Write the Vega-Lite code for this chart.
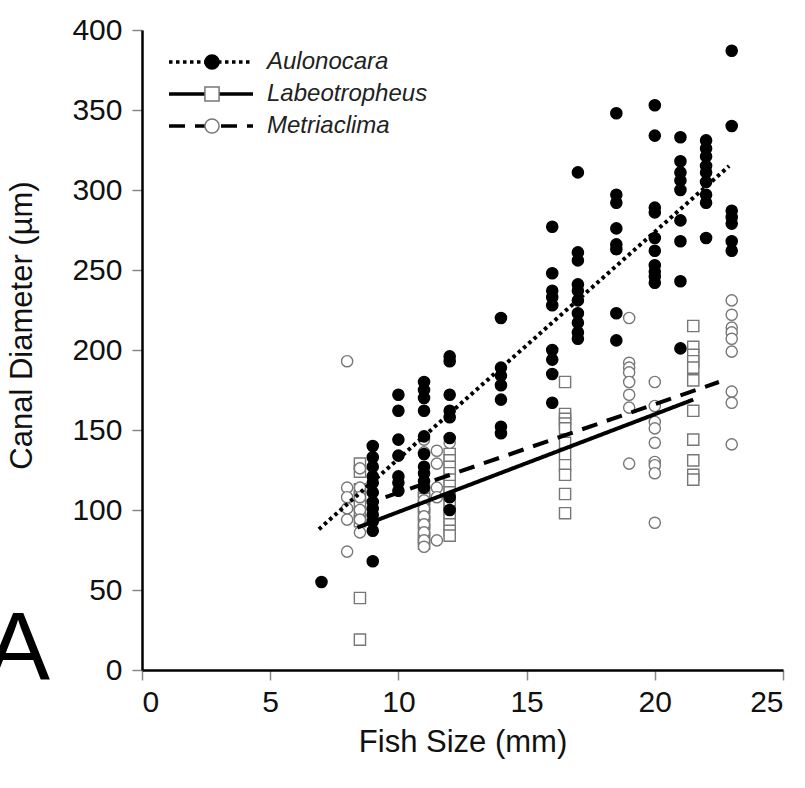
{
  "$schema": "https://vega.github.io/schema/vega-lite/v6.json",
  "width": 641,
  "height": 640,
  "autosize": {"type": "none"},
  "padding": {"left": 142, "top": 30, "right": 22, "bottom": 118},
  "background": "white",
  "config": {
    "view": {"stroke": null},
    "font": "Liberation Sans, Arial, sans-serif",
    "axis": {
      "grid": false,
      "domainColor": "black",
      "domainWidth": 2.5,
      "tickColor": "#888",
      "tickWidth": 1.5,
      "tickSize": 10,
      "labelFontSize": 30,
      "labelColor": "#111",
      "labelFont": "Liberation Sans, Arial, sans-serif",
      "titleFont": "Liberation Sans, Arial, sans-serif",
      "titleFontSize": 31,
      "titleFontWeight": "normal",
      "titleColor": "#111"
    }
  },
  "title": {
    "text": "A",
    "orient": "bottom",
    "anchor": "start",
    "frame": "group",
    "align": "center",
    "baseline": "alphabetic",
    "offset": -78,
    "dx": -124,
    "fontSize": 96,
    "fontWeight": "normal",
    "font": "Liberation Sans, Arial, sans-serif",
    "color": "black"
  },
  "datasets": {
    "points": [
      {"species": "Labeotropheus", "fish_size": 8.5, "canal_diameter": 129},
      {"species": "Labeotropheus", "fish_size": 8.5, "canal_diameter": 124},
      {"species": "Labeotropheus", "fish_size": 8.5, "canal_diameter": 113},
      {"species": "Labeotropheus", "fish_size": 8.5, "canal_diameter": 108},
      {"species": "Labeotropheus", "fish_size": 8.5, "canal_diameter": 103},
      {"species": "Labeotropheus", "fish_size": 8.5, "canal_diameter": 98},
      {"species": "Labeotropheus", "fish_size": 8.5, "canal_diameter": 93},
      {"species": "Labeotropheus", "fish_size": 8.5, "canal_diameter": 45},
      {"species": "Labeotropheus", "fish_size": 8.5, "canal_diameter": 19},
      {"species": "Labeotropheus", "fish_size": 11, "canal_diameter": 112},
      {"species": "Labeotropheus", "fish_size": 11, "canal_diameter": 107},
      {"species": "Labeotropheus", "fish_size": 11, "canal_diameter": 102},
      {"species": "Labeotropheus", "fish_size": 11, "canal_diameter": 97},
      {"species": "Labeotropheus", "fish_size": 11, "canal_diameter": 92},
      {"species": "Labeotropheus", "fish_size": 11, "canal_diameter": 87},
      {"species": "Labeotropheus", "fish_size": 11, "canal_diameter": 82},
      {"species": "Labeotropheus", "fish_size": 11, "canal_diameter": 79},
      {"species": "Labeotropheus", "fish_size": 12, "canal_diameter": 135},
      {"species": "Labeotropheus", "fish_size": 12, "canal_diameter": 131},
      {"species": "Labeotropheus", "fish_size": 12, "canal_diameter": 127},
      {"species": "Labeotropheus", "fish_size": 12, "canal_diameter": 123},
      {"species": "Labeotropheus", "fish_size": 12, "canal_diameter": 119},
      {"species": "Labeotropheus", "fish_size": 12, "canal_diameter": 115},
      {"species": "Labeotropheus", "fish_size": 12, "canal_diameter": 111},
      {"species": "Labeotropheus", "fish_size": 12, "canal_diameter": 107},
      {"species": "Labeotropheus", "fish_size": 12, "canal_diameter": 103},
      {"species": "Labeotropheus", "fish_size": 12, "canal_diameter": 99},
      {"species": "Labeotropheus", "fish_size": 12, "canal_diameter": 95},
      {"species": "Labeotropheus", "fish_size": 12, "canal_diameter": 91},
      {"species": "Labeotropheus", "fish_size": 12, "canal_diameter": 87},
      {"species": "Labeotropheus", "fish_size": 12, "canal_diameter": 84},
      {"species": "Labeotropheus", "fish_size": 16.5, "canal_diameter": 180},
      {"species": "Labeotropheus", "fish_size": 16.5, "canal_diameter": 160},
      {"species": "Labeotropheus", "fish_size": 16.5, "canal_diameter": 157},
      {"species": "Labeotropheus", "fish_size": 16.5, "canal_diameter": 154},
      {"species": "Labeotropheus", "fish_size": 16.5, "canal_diameter": 151},
      {"species": "Labeotropheus", "fish_size": 16.5, "canal_diameter": 142},
      {"species": "Labeotropheus", "fish_size": 16.5, "canal_diameter": 135},
      {"species": "Labeotropheus", "fish_size": 16.5, "canal_diameter": 128},
      {"species": "Labeotropheus", "fish_size": 16.5, "canal_diameter": 122},
      {"species": "Labeotropheus", "fish_size": 16.5, "canal_diameter": 110},
      {"species": "Labeotropheus", "fish_size": 16.5, "canal_diameter": 98},
      {"species": "Labeotropheus", "fish_size": 21.5, "canal_diameter": 215},
      {"species": "Labeotropheus", "fish_size": 21.5, "canal_diameter": 202},
      {"species": "Labeotropheus", "fish_size": 21.5, "canal_diameter": 197},
      {"species": "Labeotropheus", "fish_size": 21.5, "canal_diameter": 193},
      {"species": "Labeotropheus", "fish_size": 21.5, "canal_diameter": 189},
      {"species": "Labeotropheus", "fish_size": 21.5, "canal_diameter": 181},
      {"species": "Labeotropheus", "fish_size": 21.5, "canal_diameter": 162},
      {"species": "Labeotropheus", "fish_size": 21.5, "canal_diameter": 144},
      {"species": "Labeotropheus", "fish_size": 21.5, "canal_diameter": 131},
      {"species": "Labeotropheus", "fish_size": 21.5, "canal_diameter": 122},
      {"species": "Labeotropheus", "fish_size": 21.5, "canal_diameter": 119},
      {"species": "Metriaclima", "fish_size": 8, "canal_diameter": 193},
      {"species": "Metriaclima", "fish_size": 8, "canal_diameter": 114},
      {"species": "Metriaclima", "fish_size": 8, "canal_diameter": 108},
      {"species": "Metriaclima", "fish_size": 8, "canal_diameter": 101},
      {"species": "Metriaclima", "fish_size": 8, "canal_diameter": 94},
      {"species": "Metriaclima", "fish_size": 8, "canal_diameter": 74},
      {"species": "Metriaclima", "fish_size": 8.5, "canal_diameter": 126},
      {"species": "Metriaclima", "fish_size": 8.5, "canal_diameter": 114},
      {"species": "Metriaclima", "fish_size": 8.5, "canal_diameter": 108},
      {"species": "Metriaclima", "fish_size": 8.5, "canal_diameter": 100},
      {"species": "Metriaclima", "fish_size": 8.5, "canal_diameter": 94},
      {"species": "Metriaclima", "fish_size": 8.5, "canal_diameter": 86},
      {"species": "Metriaclima", "fish_size": 11, "canal_diameter": 144},
      {"species": "Metriaclima", "fish_size": 11, "canal_diameter": 136},
      {"species": "Metriaclima", "fish_size": 11, "canal_diameter": 114},
      {"species": "Metriaclima", "fish_size": 11, "canal_diameter": 106},
      {"species": "Metriaclima", "fish_size": 11, "canal_diameter": 101},
      {"species": "Metriaclima", "fish_size": 11, "canal_diameter": 96},
      {"species": "Metriaclima", "fish_size": 11, "canal_diameter": 91},
      {"species": "Metriaclima", "fish_size": 11, "canal_diameter": 86},
      {"species": "Metriaclima", "fish_size": 11, "canal_diameter": 81},
      {"species": "Metriaclima", "fish_size": 11, "canal_diameter": 77},
      {"species": "Metriaclima", "fish_size": 11.5, "canal_diameter": 137},
      {"species": "Metriaclima", "fish_size": 11.5, "canal_diameter": 129},
      {"species": "Metriaclima", "fish_size": 11.5, "canal_diameter": 114},
      {"species": "Metriaclima", "fish_size": 11.5, "canal_diameter": 108},
      {"species": "Metriaclima", "fish_size": 11.5, "canal_diameter": 81},
      {"species": "Metriaclima", "fish_size": 12, "canal_diameter": 142},
      {"species": "Metriaclima", "fish_size": 19, "canal_diameter": 220},
      {"species": "Metriaclima", "fish_size": 19, "canal_diameter": 192},
      {"species": "Metriaclima", "fish_size": 19, "canal_diameter": 189},
      {"species": "Metriaclima", "fish_size": 19, "canal_diameter": 186},
      {"species": "Metriaclima", "fish_size": 19, "canal_diameter": 180},
      {"species": "Metriaclima", "fish_size": 19, "canal_diameter": 172},
      {"species": "Metriaclima", "fish_size": 19, "canal_diameter": 164},
      {"species": "Metriaclima", "fish_size": 19, "canal_diameter": 129},
      {"species": "Metriaclima", "fish_size": 20, "canal_diameter": 180},
      {"species": "Metriaclima", "fish_size": 20, "canal_diameter": 165},
      {"species": "Metriaclima", "fish_size": 20, "canal_diameter": 155},
      {"species": "Metriaclima", "fish_size": 20, "canal_diameter": 151},
      {"species": "Metriaclima", "fish_size": 20, "canal_diameter": 142},
      {"species": "Metriaclima", "fish_size": 20, "canal_diameter": 130},
      {"species": "Metriaclima", "fish_size": 20, "canal_diameter": 128},
      {"species": "Metriaclima", "fish_size": 20, "canal_diameter": 123},
      {"species": "Metriaclima", "fish_size": 20, "canal_diameter": 92},
      {"species": "Metriaclima", "fish_size": 23, "canal_diameter": 231},
      {"species": "Metriaclima", "fish_size": 23, "canal_diameter": 222},
      {"species": "Metriaclima", "fish_size": 23, "canal_diameter": 214},
      {"species": "Metriaclima", "fish_size": 23, "canal_diameter": 211},
      {"species": "Metriaclima", "fish_size": 23, "canal_diameter": 207},
      {"species": "Metriaclima", "fish_size": 23, "canal_diameter": 199},
      {"species": "Metriaclima", "fish_size": 23, "canal_diameter": 174},
      {"species": "Metriaclima", "fish_size": 23, "canal_diameter": 167},
      {"species": "Metriaclima", "fish_size": 23, "canal_diameter": 141},
      {"species": "Aulonocara", "fish_size": 7, "canal_diameter": 55},
      {"species": "Aulonocara", "fish_size": 9, "canal_diameter": 140},
      {"species": "Aulonocara", "fish_size": 9, "canal_diameter": 133},
      {"species": "Aulonocara", "fish_size": 9, "canal_diameter": 127},
      {"species": "Aulonocara", "fish_size": 9, "canal_diameter": 121},
      {"species": "Aulonocara", "fish_size": 9, "canal_diameter": 117},
      {"species": "Aulonocara", "fish_size": 9, "canal_diameter": 111},
      {"species": "Aulonocara", "fish_size": 9, "canal_diameter": 105},
      {"species": "Aulonocara", "fish_size": 9, "canal_diameter": 101},
      {"species": "Aulonocara", "fish_size": 9, "canal_diameter": 97},
      {"species": "Aulonocara", "fish_size": 9, "canal_diameter": 93},
      {"species": "Aulonocara", "fish_size": 9, "canal_diameter": 87},
      {"species": "Aulonocara", "fish_size": 9, "canal_diameter": 68},
      {"species": "Aulonocara", "fish_size": 10, "canal_diameter": 172},
      {"species": "Aulonocara", "fish_size": 10, "canal_diameter": 162},
      {"species": "Aulonocara", "fish_size": 10, "canal_diameter": 144},
      {"species": "Aulonocara", "fish_size": 10, "canal_diameter": 134},
      {"species": "Aulonocara", "fish_size": 10, "canal_diameter": 121},
      {"species": "Aulonocara", "fish_size": 10, "canal_diameter": 117},
      {"species": "Aulonocara", "fish_size": 10, "canal_diameter": 112},
      {"species": "Aulonocara", "fish_size": 11, "canal_diameter": 180},
      {"species": "Aulonocara", "fish_size": 11, "canal_diameter": 175},
      {"species": "Aulonocara", "fish_size": 11, "canal_diameter": 170},
      {"species": "Aulonocara", "fish_size": 11, "canal_diameter": 162},
      {"species": "Aulonocara", "fish_size": 11, "canal_diameter": 146},
      {"species": "Aulonocara", "fish_size": 11, "canal_diameter": 135},
      {"species": "Aulonocara", "fish_size": 11, "canal_diameter": 127},
      {"species": "Aulonocara", "fish_size": 11, "canal_diameter": 123},
      {"species": "Aulonocara", "fish_size": 11, "canal_diameter": 118},
      {"species": "Aulonocara", "fish_size": 11, "canal_diameter": 114},
      {"species": "Aulonocara", "fish_size": 12, "canal_diameter": 196},
      {"species": "Aulonocara", "fish_size": 12, "canal_diameter": 193},
      {"species": "Aulonocara", "fish_size": 12, "canal_diameter": 172},
      {"species": "Aulonocara", "fish_size": 12, "canal_diameter": 162},
      {"species": "Aulonocara", "fish_size": 12, "canal_diameter": 158},
      {"species": "Aulonocara", "fish_size": 12, "canal_diameter": 145},
      {"species": "Aulonocara", "fish_size": 12, "canal_diameter": 108},
      {"species": "Aulonocara", "fish_size": 12, "canal_diameter": 100},
      {"species": "Aulonocara", "fish_size": 14, "canal_diameter": 220},
      {"species": "Aulonocara", "fish_size": 14, "canal_diameter": 189},
      {"species": "Aulonocara", "fish_size": 14, "canal_diameter": 184},
      {"species": "Aulonocara", "fish_size": 14, "canal_diameter": 178},
      {"species": "Aulonocara", "fish_size": 14, "canal_diameter": 169},
      {"species": "Aulonocara", "fish_size": 14, "canal_diameter": 152},
      {"species": "Aulonocara", "fish_size": 14, "canal_diameter": 148},
      {"species": "Aulonocara", "fish_size": 16, "canal_diameter": 277},
      {"species": "Aulonocara", "fish_size": 16, "canal_diameter": 248},
      {"species": "Aulonocara", "fish_size": 16, "canal_diameter": 237},
      {"species": "Aulonocara", "fish_size": 16, "canal_diameter": 233},
      {"species": "Aulonocara", "fish_size": 16, "canal_diameter": 228},
      {"species": "Aulonocara", "fish_size": 16, "canal_diameter": 200},
      {"species": "Aulonocara", "fish_size": 16, "canal_diameter": 194},
      {"species": "Aulonocara", "fish_size": 16, "canal_diameter": 185},
      {"species": "Aulonocara", "fish_size": 16, "canal_diameter": 167},
      {"species": "Aulonocara", "fish_size": 17, "canal_diameter": 311},
      {"species": "Aulonocara", "fish_size": 17, "canal_diameter": 261},
      {"species": "Aulonocara", "fish_size": 17, "canal_diameter": 256},
      {"species": "Aulonocara", "fish_size": 17, "canal_diameter": 241},
      {"species": "Aulonocara", "fish_size": 17, "canal_diameter": 237},
      {"species": "Aulonocara", "fish_size": 17, "canal_diameter": 231},
      {"species": "Aulonocara", "fish_size": 17, "canal_diameter": 223},
      {"species": "Aulonocara", "fish_size": 17, "canal_diameter": 217},
      {"species": "Aulonocara", "fish_size": 17, "canal_diameter": 211},
      {"species": "Aulonocara", "fish_size": 17, "canal_diameter": 207},
      {"species": "Aulonocara", "fish_size": 18.5, "canal_diameter": 348},
      {"species": "Aulonocara", "fish_size": 18.5, "canal_diameter": 297},
      {"species": "Aulonocara", "fish_size": 18.5, "canal_diameter": 292},
      {"species": "Aulonocara", "fish_size": 18.5, "canal_diameter": 276},
      {"species": "Aulonocara", "fish_size": 18.5, "canal_diameter": 266},
      {"species": "Aulonocara", "fish_size": 18.5, "canal_diameter": 263},
      {"species": "Aulonocara", "fish_size": 18.5, "canal_diameter": 223},
      {"species": "Aulonocara", "fish_size": 18.5, "canal_diameter": 206},
      {"species": "Aulonocara", "fish_size": 20, "canal_diameter": 353},
      {"species": "Aulonocara", "fish_size": 20, "canal_diameter": 334},
      {"species": "Aulonocara", "fish_size": 20, "canal_diameter": 289},
      {"species": "Aulonocara", "fish_size": 20, "canal_diameter": 286},
      {"species": "Aulonocara", "fish_size": 20, "canal_diameter": 270},
      {"species": "Aulonocara", "fish_size": 20, "canal_diameter": 262},
      {"species": "Aulonocara", "fish_size": 20, "canal_diameter": 253},
      {"species": "Aulonocara", "fish_size": 20, "canal_diameter": 249},
      {"species": "Aulonocara", "fish_size": 20, "canal_diameter": 246},
      {"species": "Aulonocara", "fish_size": 20, "canal_diameter": 242},
      {"species": "Aulonocara", "fish_size": 21, "canal_diameter": 333},
      {"species": "Aulonocara", "fish_size": 21, "canal_diameter": 318},
      {"species": "Aulonocara", "fish_size": 21, "canal_diameter": 311},
      {"species": "Aulonocara", "fish_size": 21, "canal_diameter": 306},
      {"species": "Aulonocara", "fish_size": 21, "canal_diameter": 300},
      {"species": "Aulonocara", "fish_size": 21, "canal_diameter": 281},
      {"species": "Aulonocara", "fish_size": 21, "canal_diameter": 268},
      {"species": "Aulonocara", "fish_size": 21, "canal_diameter": 243},
      {"species": "Aulonocara", "fish_size": 21, "canal_diameter": 201},
      {"species": "Aulonocara", "fish_size": 22, "canal_diameter": 331},
      {"species": "Aulonocara", "fish_size": 22, "canal_diameter": 326},
      {"species": "Aulonocara", "fish_size": 22, "canal_diameter": 321},
      {"species": "Aulonocara", "fish_size": 22, "canal_diameter": 315},
      {"species": "Aulonocara", "fish_size": 22, "canal_diameter": 311},
      {"species": "Aulonocara", "fish_size": 22, "canal_diameter": 305},
      {"species": "Aulonocara", "fish_size": 22, "canal_diameter": 297},
      {"species": "Aulonocara", "fish_size": 22, "canal_diameter": 292},
      {"species": "Aulonocara", "fish_size": 22, "canal_diameter": 270},
      {"species": "Aulonocara", "fish_size": 23, "canal_diameter": 387},
      {"species": "Aulonocara", "fish_size": 23, "canal_diameter": 340},
      {"species": "Aulonocara", "fish_size": 23, "canal_diameter": 287},
      {"species": "Aulonocara", "fish_size": 23, "canal_diameter": 283},
      {"species": "Aulonocara", "fish_size": 23, "canal_diameter": 279},
      {"species": "Aulonocara", "fish_size": 23, "canal_diameter": 268},
      {"species": "Aulonocara", "fish_size": 23, "canal_diameter": 262}
    ],
    "fits": [
      {"species": "Aulonocara", "fish_size": 6.9, "canal_diameter": 88},
      {"species": "Aulonocara", "fish_size": 22.9, "canal_diameter": 315},
      {"species": "Labeotropheus", "fish_size": 8.4, "canal_diameter": 89},
      {"species": "Labeotropheus", "fish_size": 21.5, "canal_diameter": 169},
      {"species": "Metriaclima", "fish_size": 9.5, "canal_diameter": 108},
      {"species": "Metriaclima", "fish_size": 22.5, "canal_diameter": 180}
    ]
  },
  "layer": [
    {
      "data": {"name": "points"},
      "mark": {"type": "point", "filled": true, "size": 125, "strokeWidth": 1.4, "opacity": 1},
      "encoding": {
        "x": {"field": "fish_size", "type": "quantitative", "scale": {"domain": [0, 25], "nice": false},
          "axis": {"values": [0, 5, 10, 15, 20, 25], "title": "Fish Size (mm)", "labelPadding": 7, "titleY": 72, "titleBaseline": "middle"}},
        "y": {"field": "canal_diameter", "type": "quantitative", "scale": {"domain": [0, 400], "nice": false},
          "axis": {"values": [0, 50, 100, 150, 200, 250, 300, 350, 400], "title": "Canal Diameter (µm)", "labelPadding": 10, "titleX": -120, "titleY": 295, "titleAngle": 270, "titleBaseline": "middle", "titleAlign": "center"}},
        "shape": {"field": "species", "type": "nominal", "scale": {"range": ["circle", "square", "circle"]},
          "legend": {"orient": "none", "legendX": 58, "legendY": 20, "title": null, "padding": 0, "symbolSize": 200, "symbolStrokeWidth": 1.5, "labelFontSize": 24, "labelExpr": "''", "rowPadding": 8, "zindex": 2}},
        "fill": {"field": "species", "type": "nominal", "scale": {"range": ["black", "white", "white"]},
          "legend": {"orient": "none", "legendX": 58, "legendY": 20, "title": null, "padding": 0, "symbolSize": 200, "symbolStrokeWidth": 1.5, "labelFontSize": 24, "labelExpr": "''", "rowPadding": 8, "zindex": 2}},
        "stroke": {"field": "species", "type": "nominal", "scale": {"range": ["black", "#777777", "#777777"]},
          "legend": {"orient": "none", "legendX": 58, "legendY": 20, "title": null, "padding": 0, "symbolSize": 200, "symbolStrokeWidth": 1.5, "labelFontSize": 24, "labelExpr": "''", "rowPadding": 8, "zindex": 2}}
      }
    },
    {
      "data": {"name": "fits"},
      "mark": {"type": "line", "color": "black", "strokeWidth": 4, "strokeCap": "butt"},
      "encoding": {
        "x": {"field": "fish_size", "type": "quantitative"},
        "y": {"field": "canal_diameter", "type": "quantitative"},
        "strokeDash": {"field": "species", "type": "nominal", "scale": {"range": [[3.5, 3.5], [1, 0], [16, 10]]},
          "legend": {"orient": "none", "legendX": 57, "legendY": 20, "title": null, "padding": 0, "symbolType": "M-8.4,0H8.4", "symbolSize": 100, "symbolStrokeWidth": 3.5, "symbolStrokeColor": "black", "labelFontSize": 24, "labelFontStyle": "italic", "labelColor": "#222", "labelOffset": 44, "labelLimit": 400, "rowPadding": 8, "zindex": 1}}
      }
    }
  ]
}
